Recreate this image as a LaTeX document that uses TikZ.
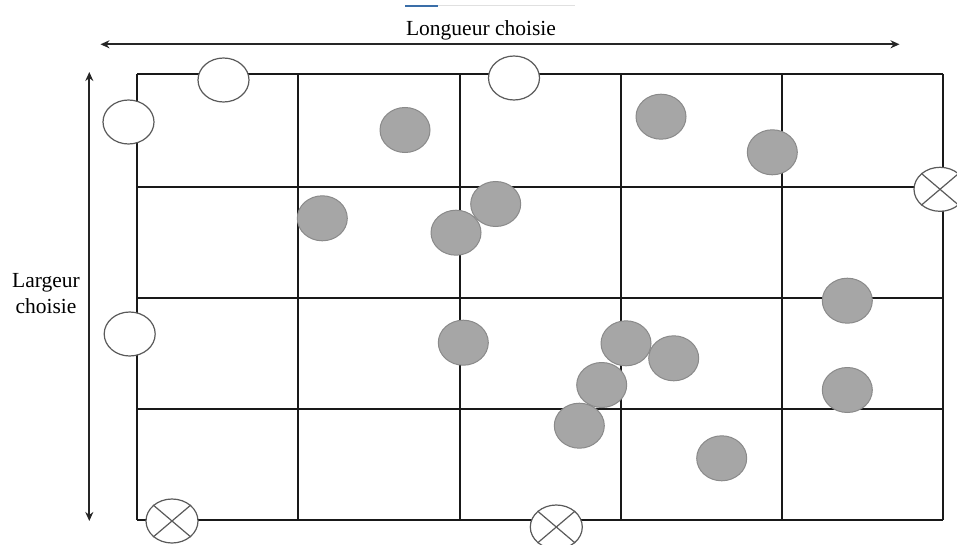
\documentclass[tikz,border=0pt]{standalone}
\usepackage{fontspec}
\setmainfont{Liberation Serif}
\usetikzlibrary{arrows.meta,shapes.geometric}
\definecolor{dotfill}{HTML}{A6A6A6}
\definecolor{dotline}{HTML}{8A8A8A}
\definecolor{ringline}{HTML}{5A5A5A}
\definecolor{topblue}{HTML}{3A6EA8}
\begin{document}
\begin{tikzpicture}[x=1pt,y=-1pt,
  gridline/.style={line width=1.8pt,black!90},
  dim/.style={line width=1.7pt,black!85,{Stealth[length=9pt,width=8pt]}-{Stealth[length=9pt,width=8pt]}},
  lbl/.style={font=\fontsize{21.5}{26}\selectfont,inner sep=0pt,anchor=base},
  stone/.style={ellipse,draw=dotline,fill=dotfill,line width=1pt,minimum width=50pt,minimum height=45pt,inner sep=0pt},
  ring/.style={ellipse,draw=ringline,fill=white,line width=1.2pt,minimum width=51pt,minimum height=44pt,inner sep=0pt},
  xring/.style={ellipse,draw=ringline,fill=white,line width=1.2pt,minimum width=52pt,minimum height=44pt,inner sep=0pt},
  xline/.style={draw=ringline,line width=1.2pt},
]
\useasboundingbox (0,0) rectangle (957,545);
\clip (0,0) rectangle (957,545);
\fill[white] (0,0) rectangle (957,545);

% faint top line
\draw[line width=1pt,black!12] (438,6) -- (575,6);
\draw[line width=1.4pt,topblue] (405,6) -- (438,6);

% grid
\foreach \gx in {137,298,459.7,620.7,781.7,943}
  \draw[gridline] (\gx,74) -- (\gx,520);
\foreach \gy in {74,186.7,297.7,408.7,520}
  \draw[gridline] (137,\gy) -- (943,\gy);

% dimension arrows
\coordinate (hl) at (100.5,44.3);
\coordinate (hr) at (899.5,44.3);
\coordinate (vt) at (89.3,72);
\coordinate (vb) at (89.3,521);
\draw[dim] (hl) -- (hr);
\draw[dim] (vt) -- (vb);

\node[lbl] (longueur) at (481,36) {Longueur choisie};
\node[lbl] (largeur1) at (46,287) {Largeur};
\node[lbl] (largeur2) at (46,313) {choisie};

% white rings
\node[ring] (r1) at (223.5,80) {};
\node[ring] (r2) at (514,78) {};
\node[ring] (r3) at (128.5,122) {};
\node[ring] (r4) at (129.7,334) {};

% crossed rings
\foreach \n/\p in {x1/{(940,189.3)},x2/{(172,521)},x3/{(556.3,527)}}{
  \node[xring] (\n) at \p {};
  \draw[xline] (\n.north east) -- (\n.south west);
  \draw[xline] (\n.north west) -- (\n.south east);
}

% gray stones
\node[stone] (s1) at (405,130) {};
\node[stone] (s2) at (661,116.7) {};
\node[stone] (s3) at (772.3,152.3) {};
\node[stone] (s4) at (322.3,218.3) {};
\node[stone] (s5) at (495.7,204) {};
\node[stone] (s6) at (456,232.7) {};
\node[stone] (s7) at (847.3,300.7) {};
\node[stone] (s8) at (463.3,342.7) {};
\node[stone] (s9) at (626,343.3) {};
\node[stone] (s10) at (673.7,358.3) {};
\node[stone] (s11) at (601.7,385) {};
\node[stone] (s12) at (847.3,390) {};
\node[stone] (s13) at (579.3,425.7) {};
\node[stone] (s14) at (721.7,458.3) {};
\end{tikzpicture}
\end{document}
